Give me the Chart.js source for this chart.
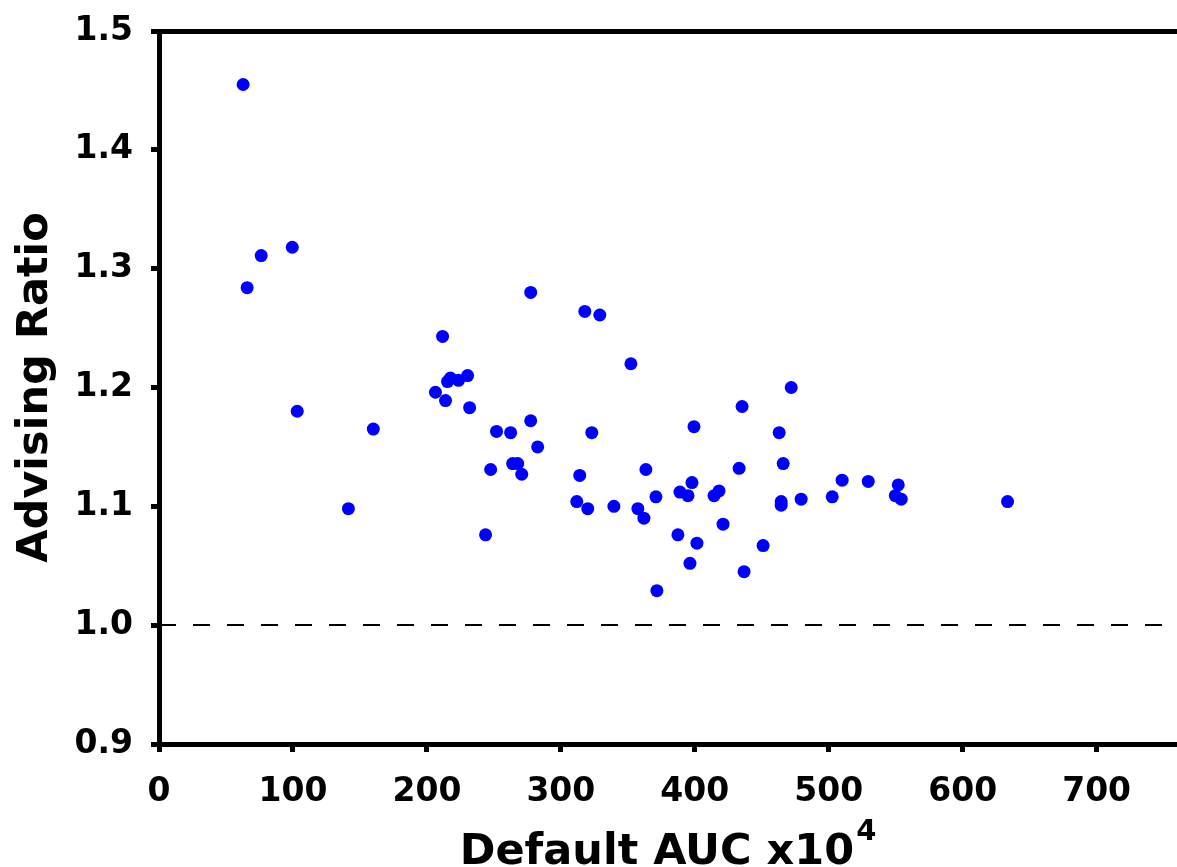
<!DOCTYPE html>
<html>
<head>
<meta charset="utf-8">
<script src="https://cdn.jsdelivr.net/npm/chart.js@4.4.1/dist/chart.umd.min.js"></script>
<style>
  html, body { margin: 0; padding: 0; background: #fff; }
  canvas { display: block; }
</style>
</head>
<body>
<canvas id="scatter" width="1177" height="867"></canvas>
<script>
// values
const aucValues = [
  62.8, 65.8, 76.3, 99.5, 103.2, 141.4, 160.0, 206.4, 211.7, 213.9,
  215.4, 217.6, 223.6, 230.4, 231.9, 243.8, 247.6, 252.0, 262.5, 264.0,
  267.8, 270.8, 277.5, 277.5, 282.7, 311.9, 314.1, 317.9, 320.1, 323.1,
  329.1, 339.6, 352.3, 357.5, 362.0, 363.5, 371.0, 371.7, 387.4, 388.9,
  394.9, 396.4, 397.9, 399.4, 401.6, 414.4, 418.1, 421.1, 433.1, 435.3,
  436.8, 451.0, 463.0, 464.5, 464.5, 466.0, 472.0, 479.4, 502.6, 510.0,
  529.5, 549.7, 551.9, 554.1, 633.5
];
const ratioValues = [
  1.455, 1.284, 1.311, 1.318, 1.180, 1.098, 1.165, 1.196, 1.243, 1.189,
  1.205, 1.208, 1.206, 1.210, 1.183, 1.076, 1.131, 1.163, 1.162, 1.136,
  1.136, 1.127, 1.280, 1.172, 1.150, 1.104, 1.126, 1.264, 1.098, 1.162,
  1.261, 1.100, 1.220, 1.098, 1.090, 1.131, 1.108, 1.029, 1.076, 1.112,
  1.109, 1.052, 1.120, 1.167, 1.069, 1.109, 1.113, 1.085, 1.132, 1.184,
  1.045, 1.067, 1.162, 1.104, 1.101, 1.136, 1.200, 1.106, 1.108, 1.122,
  1.121, 1.109, 1.118, 1.106, 1.104
];
const xTicks = [0, 100, 200, 300, 400, 500, 600, 700];
const yTicks = [0.9, 1.0, 1.1, 1.2, 1.3, 1.4, 1.5];
const refLine = 1.0;

const FONT = "'DejaVu Sans', sans-serif";

// top spine, dashed reference line and axis titles
const decor = {
  id: 'decor',
  beforeDatasetsDraw(chart) {
    const { ctx, chartArea, scales } = chart;
    const y = Math.round(scales.y.getPixelForValue(refLine));
    ctx.save();
    ctx.strokeStyle = '#000';
    ctx.lineWidth = 2;
    ctx.setLineDash([17, 17]);
    ctx.beginPath();
    ctx.moveTo(chartArea.left, y);
    ctx.lineTo(chartArea.right, y);
    ctx.stroke();
    ctx.restore();
  },
  afterDraw(chart) {
    const { ctx, chartArea } = chart;
    ctx.save();
    ctx.fillStyle = '#000';
    ctx.fillRect(chartArea.left - 2, chartArea.top - 2, chartArea.right - chartArea.left + 2, 5);

    const cx = (chartArea.left + chartArea.right) / 2;
    ctx.font = 'bold 43px ' + FONT;
    const main = 'Default AUC x10';
    const w1 = ctx.measureText(main).width;
    ctx.font = 'bold 29px ' + FONT;
    const w2 = ctx.measureText('4').width;
    const start = cx - (w1 + w2 + 2) / 2;
    ctx.textBaseline = 'alphabetic';
    ctx.textAlign = 'left';
    ctx.font = 'bold 43px ' + FONT;
    ctx.fillText(main, start, 864);
    ctx.font = 'bold 29px ' + FONT;
    ctx.fillText('4', start + w1 + 2, 840);

    ctx.translate(47, (chartArea.top + chartArea.bottom) / 2);
    ctx.rotate(-Math.PI / 2);
    ctx.textAlign = 'center';
    ctx.font = 'bold 43px ' + FONT;
    ctx.fillText('Advising Ratio', 0, 0);
    ctx.restore();
  }
};

const ctx = document.getElementById('scatter').getContext('2d');

const chart = new Chart(ctx, {
  type: 'scatter',
  data: {
    datasets: [{
      data: aucValues.map((x, i) => ({ x: x, y: ratioValues[i] })),
      backgroundColor: '#0000ff',
      borderWidth: 0,
      pointRadius: 6.5,
      pointHoverRadius: 6.5
    }]
  },
  options: {
    responsive: false,
    animation: false,
    devicePixelRatio: 1,
    layout: { autoPadding: false, padding: { top: 31, right: 0, left: 0, bottom: 0 } },
    plugins: {
      legend: { display: false },
      tooltip: { enabled: false }
    },
    scales: {
      x: {
        type: 'linear',
        min: 0,
        max: 760,
        afterBuildTicks: s => { s.ticks = xTicks.map(v => ({ value: v })); },
        afterFit: s => {
          s.height = 123;
          s.paddingLeft = 0; s.paddingRight = 0;
        },
        grid: { drawOnChartArea: false, tickLength: 8, tickWidth: 5, color: '#000' },
        border: { width: 5, color: '#000' },
        ticks: {
          color: '#000',
          padding: 21,
          maxRotation: 0,
          font: { family: FONT, size: 33, weight: 'bold' }
        }
      },
      y: {
        min: 0.9,
        max: 1.5,
        afterBuildTicks: s => { s.ticks = yTicks.map(v => ({ value: v })); },
        afterFit: s => {
          s.width = 159;
          s.paddingTop = 0; s.paddingBottom = 0;
        },
        grid: { drawOnChartArea: false, tickLength: 8, tickWidth: 5, color: '#000' },
        border: { width: 5, color: '#000' },
        ticks: {
          color: '#000',
          padding: 18,
          callback: v => v.toFixed(1),
          font: { family: FONT, size: 33, weight: 'bold' }
        }
      }
    }
  },
  plugins: [decor]
});
</script>
</body>
</html>
